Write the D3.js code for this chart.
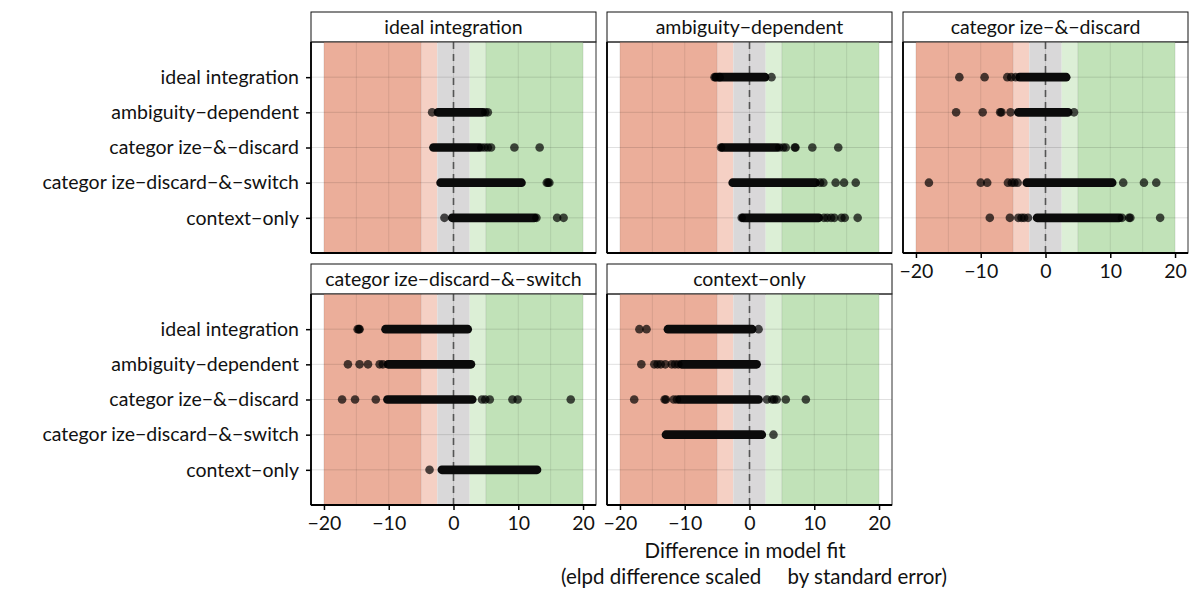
<!DOCTYPE html>
<html>
<head>
<meta charset="utf-8">
<script src="https://cdn.jsdelivr.net/npm/d3@7"></script>
<style>
  body { margin: 0; background: #fff; }
  text { font-family: Lato, "Open Sans", sans-serif; fill: #111; }
</style>
</head>
<body>
<div id="chart"></div>
<script>
// model names (rows and facets use the same order)
var models = [
    'ideal integration',
    'ambiguity\u2212dependent',
    'categor ize\u2212&\u2212discard',
    'categor ize\u2212discard\u2212&\u2212switch',
    'context\u2212only'
];

// dense runs of points (lo..hi) per facet, per row; null where facet == row
var dense_lo = [
    [null, -2.4, -3.1, -2.0, -0.2],
    [-5.2, null, -4.2, -2.6, -1.0],
    [-4.0, -4.2, null, -2.9, -1.3],
    [-10.5, -10.1, -10.2, null, -1.8],
    [-12.6, -10.5, -10.8, -12.9, null]
];
var dense_hi = [
    [null, 4.5, 3.9, 10.5, 12.5],
    [2.4, null, 4.2, 10.2, 10.7],
    [3.2, 3.5, null, 10.3, 11.4],
    [2.2, 2.7, 2.9, null, 12.9],
    [0.4, 1.1, 1.4, 1.9, null]
];

// scattered single points per facet, per row
var outliers = [
    [[], [-3.3, 4.9, 5.3], [4.3, 4.8, 5.3, 5.8, 9.4, 13.3], [14.4, 14.6, 14.8], [-1.4, 12.8, 16.0, 17.0]],
    [[-5.4, -4.6, 3.4], [], [-4.4, 4.6, 5.2, 5.6, 7.0, 7.1, 9.7, 13.7], [10.9, 11.4, 13.3, 14.6, 16.4], [-1.2, 11.5, 12.0, 12.6, 13.1, 14.2, 14.7, 16.7]],
    [[-13.3, -9.4, -5.9, -5.3, -4.6], [-13.8, -9.7, -7.0, -6.8, -5.4, 4.4], [], [-18.0, -10.0, -9.0, -5.8, -5.2, -4.8, -4.3, 12.0, 15.2, 17.1], [-8.6, -5.5, -4.2, -3.7, -3.3, -2.7, 11.8, 12.9, 13.1, 17.7]],
    [[-14.8, -14.6, -14.5], [-16.3, -14.5, -13.2, -11.4, -10.9], [-17.2, -15.2, -12.0, 4.4, 4.9, 5.6, 9.1, 9.9, 18.1], [], [-3.7]],
    [[-17.0, -15.9, 1.4], [-16.7, -14.7, -14.2, -13.7, -13.0, -12.0, -11.5, -11.0], [-17.8, -13.1, -12.9, -11.7, -11.2, 2.7, 3.5, 3.8, 4.2, 5.6, 8.7], [3.7], []]
];

// background bands
var band_from = [-20, -5, -2.5, 2.5, 5];
var band_to = [-5, -2.5, 2.5, 5, 20];
var band_colors = ['#ebae9a', '#f5d0c4', '#d9d8d9', '#dcefd6', '#c1e2b8'];

var x_ticks = [-20, -10, 0, 10, 20];
var x_grid = [-20, -15, -10, -5, 0, 5, 10, 15, 20];

var chart_width = 1200;
var chart_height = 600;
var panel_w = 285;
var panel_h = 211;
var strip_h = 30;
var col_x = [311, 607, 903];
var row_y = [42, 294];
var font_size = '19.5px';

var svg = d3.select('#chart')
            .append('svg')
            .attr('width', chart_width)
            .attr('height', chart_height);

var x_scale = d3.scaleLinear()
                .domain([-22, 22])
                .range([0, panel_w]);

var y_scale = d3.scalePoint()
                .domain(models)
                .range([0, panel_h])
                .padding(1);

models.forEach((facet, f) => {
    var col = f % 3;
    var row = Math.floor(f / 3);
    var g = svg.append('g')
               .attr('transform', 'translate(' + col_x[col] + ',' + row_y[row] + ')');

    //strip
    g.append('rect')
        .attr('x', 0)
        .attr('y', -strip_h)
        .attr('width', panel_w)
        .attr('height', strip_h)
        .attr('fill', '#fff')
        .attr('stroke', '#111')
        .attr('stroke-width', 1);
    g.append('text')
        .attr('x', panel_w / 2)
        .attr('y', -strip_h / 2 + 6.5)
        .attr('text-anchor', 'middle')
        .style('font-size', font_size)
        .attr('xml:space', 'preserve')
        .text(facet);

    //bands
    g.selectAll('rect.band')
        .data(band_from)
        .enter()
        .append('rect')
        .attr('class', 'band')
        .attr('x', (d) => x_scale(d))
        .attr('y', 0)
        .attr('width', (d, i) => x_scale(band_to[i]) - x_scale(d))
        .attr('height', panel_h)
        .attr('fill', (d, i) => band_colors[i]);

    //grid
    g.selectAll('line.vgrid')
        .data(x_grid)
        .enter()
        .append('line')
        .attr('x1', (d) => x_scale(d))
        .attr('x2', (d) => x_scale(d))
        .attr('y1', 0)
        .attr('y2', panel_h)
        .attr('stroke', '#000')
        .attr('stroke-opacity', 0.09)
        .attr('stroke-width', 1);
    g.selectAll('line.hgrid')
        .data(models)
        .enter()
        .append('line')
        .attr('x1', 0)
        .attr('x2', panel_w)
        .attr('y1', (d) => y_scale(d))
        .attr('y2', (d) => y_scale(d))
        .attr('stroke', '#000')
        .attr('stroke-opacity', 0.12)
        .attr('stroke-width', 1);

    //zero line
    g.append('line')
        .attr('x1', x_scale(0))
        .attr('x2', x_scale(0))
        .attr('y1', 0)
        .attr('y2', panel_h)
        .attr('stroke', '#555')
        .attr('stroke-width', 1.6)
        .attr('stroke-dasharray', '7,5');

    //dense runs
    var runs = models.map((m, r) => ({ m: m, lo: dense_lo[f][r], hi: dense_hi[f][r] }))
                     .filter((d) => d.lo !== null);
    g.selectAll('line.run')
        .data(runs)
        .enter()
        .append('line')
        .attr('x1', (d) => x_scale(d.lo))
        .attr('x2', (d) => x_scale(d.hi))
        .attr('y1', (d) => y_scale(d.m))
        .attr('y2', (d) => y_scale(d.m))
        .attr('stroke', '#0b0b0b')
        .attr('stroke-width', 8.6)
        .attr('stroke-linecap', 'round');

    //single points
    var pts = [];
    models.forEach((m, r) => {
        outliers[f][r].forEach((v) => pts.push({ m: m, v: v }));
    });
    g.selectAll('circle')
        .data(pts)
        .enter()
        .append('circle')
        .attr('cx', (d) => x_scale(d.v))
        .attr('cy', (d) => y_scale(d.m))
        .attr('r', 4.3)
        .attr('fill', '#000')
        .attr('fill-opacity', 0.7);

    //panel border and axis lines
    g.append('rect')
        .attr('width', panel_w)
        .attr('height', panel_h)
        .attr('fill', 'none')
        .attr('stroke', '#333')
        .attr('stroke-width', 1);
    g.append('line')
        .attr('x1', 0).attr('x2', 0)
        .attr('y1', 0).attr('y2', panel_h)
        .attr('stroke', '#000')
        .attr('stroke-width', 1.8);
    g.append('line')
        .attr('x1', 0).attr('x2', panel_w)
        .attr('y1', panel_h).attr('y2', panel_h)
        .attr('stroke', '#000')
        .attr('stroke-width', 1.8);

    //y axis on left column
    if (col === 0) {
        var y_axis = d3.axisLeft(y_scale).tickSize(5).tickPadding(7);
        var ya = g.append('g').call(y_axis);
        ya.select('.domain').remove();
        ya.selectAll('line').attr('stroke', '#000').attr('stroke-width', 1.5);
        ya.selectAll('text')
            .style('font-size', font_size)
            .style('font-family', 'Lato, "Open Sans", sans-serif')
            .attr('fill', '#111')
            .attr('xml:space', 'preserve');
    }

    //x axis where nothing is below
    if (row === 1 || col === 2) {
        var x_axis = d3.axisBottom(x_scale)
                       .tickValues(x_ticks)
                       .tickSize(5)
                       .tickPadding(6)
                       .tickFormat((d) => d < 0 ? '\u2212' + Math.abs(d) : d);
        var xa = g.append('g')
                  .attr('transform', 'translate(0,' + panel_h + ')')
                  .call(x_axis);
        xa.select('.domain').remove();
        xa.selectAll('line').attr('stroke', '#000').attr('stroke-width', 1.5);
        xa.selectAll('text')
            .style('font-size', font_size)
            .style('font-family', 'Lato, "Open Sans", sans-serif')
            .attr('fill', '#111');
    }
});

//x axis title
svg.append('text')
    .attr('x', 745)
    .attr('y', 558)
    .attr('text-anchor', 'middle')
    .style('font-size', '20.5px')
    .text('Difference in model fit');
svg.append('text')
    .attr('x', 754)
    .attr('y', 584)
    .attr('text-anchor', 'middle')
    .style('font-size', '20.5px')
    .attr('xml:space', 'preserve')
    .text('(elpd difference scaled     by standard error)');
</script>
</body>
</html>
